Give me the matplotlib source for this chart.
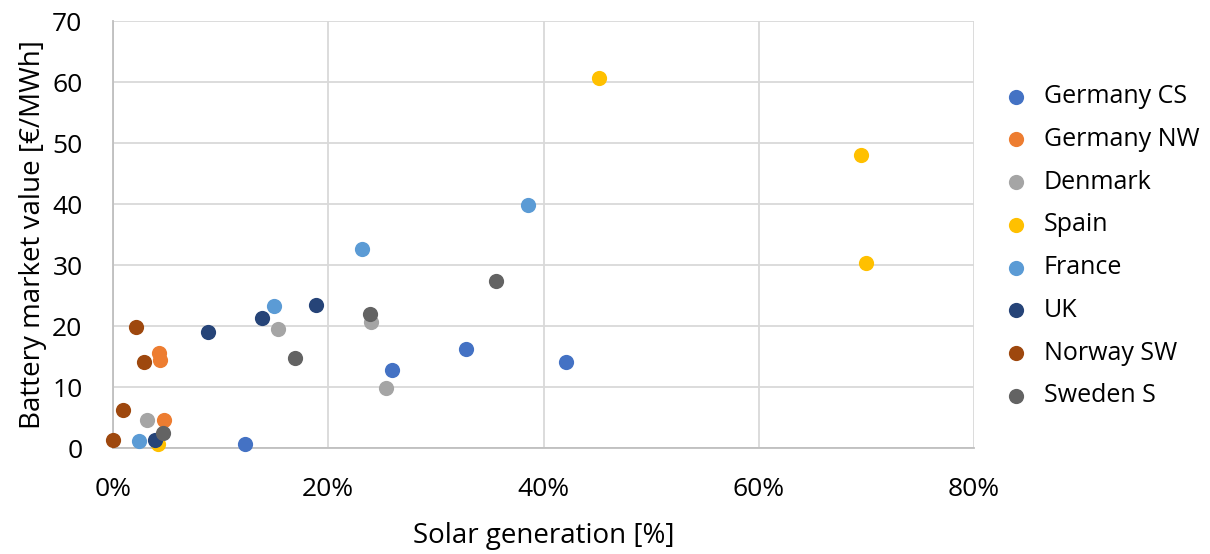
import matplotlib
matplotlib.use("Agg")
import matplotlib.pyplot as plt
from matplotlib.ticker import PercentFormatter

plt.rcParams['font.family'] = ['Open Sans', 'DejaVu Sans']

# solar generation share [%] and battery market value [EUR/MWh] per region
germany_cs_x = [12.3, 25.9, 32.8, 42.1]
germany_cs_y = [0.7, 12.8, 16.3, 14.1]
germany_nw_x = [4.3, 4.4, 4.7]
germany_nw_y = [15.6, 14.5, 4.6]
denmark_x = [3.2, 15.3, 24.0, 25.4]
denmark_y = [4.7, 19.5, 20.6, 9.8]
spain_x = [4.2, 45.2, 69.5, 70.0]
spain_y = [0.7, 60.7, 48.0, 30.3]
france_x = [2.4, 15.0, 23.1, 38.6]
france_y = [1.1, 23.3, 32.6, 39.9]
uk_x = [3.9, 8.8, 13.8, 18.9]
uk_y = [1.4, 19.0, 21.3, 23.4]
norway_sw_x = [0.0, 0.9, 2.9, 2.1]
norway_sw_y = [1.3, 6.3, 14.2, 19.8]
sweden_s_x = [4.6, 16.9, 23.9, 35.6]
sweden_s_y = [2.5, 14.7, 22.0, 27.4]

series = [
    ("Germany CS", germany_cs_x, germany_cs_y, "#4472C4"),
    ("Germany NW", germany_nw_x, germany_nw_y, "#ED7D31"),
    ("Denmark", denmark_x, denmark_y, "#A5A5A5"),
    ("Spain", spain_x, spain_y, "#FFC000"),
    ("France", france_x, france_y, "#5B9BD5"),
    ("UK", uk_x, uk_y, "#264478"),
    ("Norway SW", norway_sw_x, norway_sw_y, "#9E480E"),
    ("Sweden S", sweden_s_x, sweden_s_y, "#636363"),
]

fig = plt.figure(figsize=(12.1, 5.54), dpi=100)
ax = fig.add_axes([0.0934, 0.191, 0.7116, 0.771])

for name, xs, ys, col in series:
    ax.scatter(xs, ys, s=120, color=col, label=name, zorder=3, linewidths=0, clip_on=False)

ax.set_xlim(0, 80)
ax.set_ylim(0, 70)
ax.set_xticks([0, 20, 40, 60, 80])
ax.set_yticks(range(0, 71, 10))
ax.xaxis.set_major_formatter(PercentFormatter(decimals=0))
ax.grid(True, color="#D9D9D9", linewidth=1.3, zorder=0)
ax.set_axisbelow(True)
for s in ["top", "right"]:
    ax.spines[s].set_visible(False)
for s in ["left", "bottom"]:
    ax.spines[s].set_color("#BFBFBF")
    ax.spines[s].set_linewidth(1.3)
ax.tick_params(axis="both", length=0, labelsize=19, colors="#000000")
ax.tick_params(axis="x", pad=21)
ax.tick_params(axis="y", pad=22)

ax.set_xlabel("Solar generation [%]", fontsize=20, labelpad=14)
ax.set_ylabel("Battery market value [€/MWh]", fontsize=20, labelpad=4)

fig.legend(loc="upper left", bbox_to_anchor=(0.811, 0.866), frameon=False,
           fontsize=18, handletextpad=0.1, labelspacing=0.71,
           markerscale=1.0, borderaxespad=0)

fig.savefig("out.png", dpi=100)
